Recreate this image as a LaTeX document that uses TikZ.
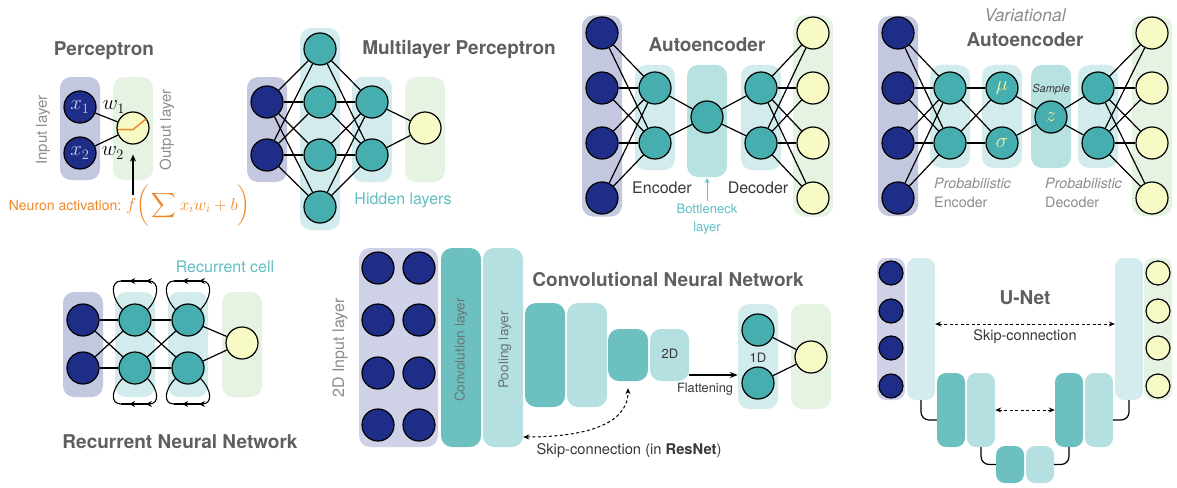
\documentclass[tikz,border=0pt]{standalone}
\usepackage{amsmath}
\usepackage{fontspec}
\setmainfont{TeX Gyre Heros}
\usetikzlibrary{arrows.meta,calc,decorations.markings}
\definecolor{navy}{RGB}{30,45,135}
\definecolor{tealN}{RGB}{70,174,174}
\definecolor{yelN}{RGB}{247,250,196}
\definecolor{inbox}{RGB}{196,199,224}
\definecolor{inboxB}{RGB}{207,209,230}
\definecolor{hidbox}{RGB}{210,235,236}
\definecolor{bnbox}{RGB}{184,225,226}
\definecolor{outbox}{RGB}{230,243,227}
\definecolor{convC}{RGB}{108,192,192}
\definecolor{poolC}{RGB}{180,224,225}
\definecolor{unetL}{RGB}{212,236,237}
\definecolor{titlegray}{RGB}{95,95,95}
\definecolor{labelgray}{RGB}{140,140,140}
\definecolor{darktext}{RGB}{55,55,55}
\definecolor{tealtext}{RGB}{95,190,195}
\definecolor{orangeC}{RGB}{240,135,40}
\definecolor{xlab}{RGB}{200,205,235}
\definecolor{greek}{RGB}{240,240,170}
\definecolor{convtext}{RGB}{105,118,118}
\begin{document}
\begin{tikzpicture}[x=1pt,y=-1pt,
  neuron/.style={circle,draw=black,line width=1.2pt,minimum size=32pt,inner sep=0pt},
  inN/.style={neuron,fill=navy},
  hidN/.style={neuron,fill=tealN},
  outN/.style={neuron,fill=yelN},
  lbox/.style={rounded corners=11pt,minimum width=40pt,inner sep=0pt,draw=none},
  ubox/.style={rounded corners=9pt,minimum width=28pt,inner sep=0pt,draw=none},
  conn/.style={line width=1.2pt},
  ttl/.style={font=\fontsize{19}{22}\selectfont\bfseries,text=titlegray},
  lbl/.style={font=\fontsize{15}{18}\selectfont,text=labelgray},
  rarr/.style={line width=1.1pt,postaction={decorate},
    decoration={markings,
      mark=at position 0.11 with {\arrow{Stealth[length=6pt,width=6pt]}},
      mark=at position 0.71 with {\arrow{Stealth[length=6pt,width=6pt]}}}},
  dsh/.style={line width=1pt,dash pattern=on 3pt off 2.5pt,
    {Stealth[length=6pt,width=5pt]}-{Stealth[length=6pt,width=5pt]}}
]
\useasboundingbox (0,0) rectangle (1177,487);

% ================= Perceptron =================
\node[lbox,fill=inbox,minimum height=103pt] (pin) at (80,128.5) {};
\node[lbox,fill=outbox,minimum height=103pt] (pout) at (133,128.5) {};
\node[inN,font=\fontsize{20}{22}\selectfont,text=xlab] (px1) at (80,107) {$x_1$};
\node[inN,font=\fontsize{20}{22}\selectfont,text=xlab] (px2) at (80,153) {$x_2$};
\node[outN] (py) at (133,128) {};
\draw[conn] (px1) -- (py);
\draw[conn] (px2) -- (py);
\draw[orangeC,line width=1.5pt] (118,129.5) -- (133,129.5) -- (146,119);
\node[font=\fontsize{20}{22}\selectfont] (w1) at (114,107) {$w_1$};
\node[font=\fontsize{20}{22}\selectfont] (w2) at (113,153) {$w_2$};
\node[lbl,rotate=90] (pinl) at (43,130) {Input layer};
\node[lbl,rotate=90] (poutl) at (167,130) {Output layer};
\node[ttl] (pttl) at (104,51) {Perceptron};
\node[anchor=base east,inner sep=0pt,text=orangeC,font=\fontsize{14}{16}\selectfont] (act) at (121.5,210) {Neuron activation:};
\node[anchor=base west,inner sep=0pt,text=orangeC,font=\fontsize{17}{20}\selectfont] (fx) at (126,210) {$f\bigg(\displaystyle\sum x_i w_i + b\bigg)$};
\coordinate (actA) at (133,195);
\draw[conn,-{Stealth[length=7pt,width=6pt]},shorten >=10pt] (actA) -- (py.south);

% ================= MLP =================
\node[lbox,fill=inbox,minimum height=105pt] (min) at (267,129.5) {};
\node[lbox,fill=hidbox,minimum height=202pt] (mh1) at (320,129) {};
\node[lbox,fill=hidbox,minimum height=105pt] (mh2) at (372,129.5) {};
\node[lbox,fill=outbox,minimum height=105pt] (mout) at (425,129.5) {};
\node[inN] (ma1) at (267,102) {};
\node[inN] (ma2) at (267,155) {};
\node[hidN] (mb1) at (320,49) {};
\node[hidN] (mb2) at (320,102) {};
\node[hidN] (mb3) at (320,155) {};
\node[hidN] (mb4) at (320,207) {};
\node[hidN] (mc1) at (372,102) {};
\node[hidN] (mc2) at (372,155) {};
\node[outN] (md) at (425,128) {};
\foreach \a in {ma1,ma2} \foreach \b in {mb1,mb2,mb3,mb4} \draw[conn] (\a) -- (\b);
\foreach \a in {mb1,mb2,mb3,mb4} \foreach \b in {mc1,mc2} \draw[conn] (\a) -- (\b);
\foreach \a in {mc1,mc2} \draw[conn] (\a) -- (md);
\node[ttl] (mttl) at (459,50) {Multilayer Perceptron};
\node[font=\fontsize{16}{19}\selectfont,text=tealtext] (mhl) at (403,200) {Hidden layers};

% ================= Autoencoder =================
\node[lbox,fill=inbox,minimum height=201pt] (ain) at (602,116) {};
\node[lbox,fill=hidbox,minimum height=105pt] (aenc) at (655,117.5) {};
\node[lbox,fill=bnbox,minimum height=112pt] (abn) at (707,121) {};
\node[lbox,fill=hidbox,minimum height=105pt] (adec) at (761,117.5) {};
\node[lbox,fill=outbox,minimum height=201pt] (aout) at (813,116) {};
\foreach \i/\y in {1/33,2/88,3/143,4/198} {
  \node[inN] (ai\i) at (602,\y) {};
  \node[outN] (ao\i) at (813,\y) {};
}
\node[hidN] (ae1) at (655,88) {};
\node[hidN] (ae2) at (655,143) {};
\node[hidN] (ab) at (707,117) {};
\node[hidN] (ad1) at (761,88) {};
\node[hidN] (ad2) at (761,143) {};
\foreach \a in {ai1,ai2,ai3,ai4} \foreach \b in {ae1,ae2} \draw[conn] (\a) -- (\b);
\foreach \a in {ae1,ae2} \draw[conn] (\a) -- (ab);
\foreach \b in {ad1,ad2} \draw[conn] (ab) -- (\b);
\foreach \a in {ad1,ad2} \foreach \b in {ao1,ao2,ao3,ao4} \draw[conn] (\a) -- (\b);
\node[ttl] (attl) at (707,45) {Autoencoder};
\node[font=\fontsize{16}{19}\selectfont,text=darktext] (aencl) at (662,188) {Encoder};
\node[font=\fontsize{16}{19}\selectfont,text=darktext] (adecl) at (758,188) {Decoder};
\node[font=\fontsize{13}{18}\selectfont,text=tealtext,align=center] (abnl) at (707,219) {Bottleneck\\layer};
\draw[tealtext,line width=1pt,-{Stealth[length=5pt,width=5pt]}] ([yshift=-1pt]abnl.north) -- ([yshift=-1pt]abn.south);

% ================= VAE =================
\node[lbox,fill=inbox,minimum height=200pt] (vin) at (898,116) {};
\node[lbox,fill=hidbox,minimum height=103pt] (venc) at (950,116.5) {};
\node[lbox,fill=hidbox,minimum height=103pt] (vms) at (1002,116.5) {};
\node[lbox,fill=bnbox,minimum height=103pt] (vz) at (1051,116.5) {};
\node[lbox,fill=hidbox,minimum height=103pt] (vdec) at (1098,116.5) {};
\node[lbox,fill=outbox,minimum height=200pt] (vout) at (1152,116) {};
\foreach \i/\y in {1/33,2/88,3/143,4/198} {
  \node[inN] (vi\i) at (898,\y) {};
  \node[outN] (vo\i) at (1152,\y) {};
}
\node[hidN] (ve1) at (950,88) {};
\node[hidN] (ve2) at (950,143) {};
\node[hidN,text=greek,font=\fontsize{22}{24}\selectfont] (vmu) at (1002,88) {$\mu$};
\node[hidN,text=greek,font=\fontsize{22}{24}\selectfont] (vsig) at (1002,143) {$\sigma$};
\node[hidN,text=greek,font=\fontsize{22}{24}\selectfont] (vzn) at (1051,117) {$z$};
\node[hidN] (vd1) at (1098,88) {};
\node[hidN] (vd2) at (1098,143) {};
\foreach \a in {vi1,vi2,vi3,vi4} \foreach \b in {ve1,ve2} \draw[conn] (\a) -- (\b);
\foreach \a in {ve1,ve2} \foreach \b in {vmu,vsig} \draw[conn] (\a) -- (\b);
\foreach \a in {vmu,vsig} \draw[conn] (\a) -- (vzn);
\foreach \b in {vd1,vd2} \draw[conn] (vzn) -- (\b);
\foreach \a in {vd1,vd2} \foreach \b in {vo1,vo2,vo3,vo4} \draw[conn] (\a) -- (\b);
\node[font=\fontsize{17.5}{20}\selectfont\itshape,text=labelgray] (vvar) at (1025,15) {Variational};
\node[ttl] (vttl) at (1025,40) {Autoencoder};
\node[font=\fontsize{11}{13}\selectfont\itshape,text=darktext] (vsam) at (1051,90) {Sample};
\node[anchor=west,inner sep=0pt,font=\fontsize{14.3}{17}\selectfont\itshape,text=labelgray] (vpe) at (934,183) {Probabilistic};
\node[anchor=west,inner sep=0pt,font=\fontsize{14.3}{17}\selectfont,text=labelgray] (vpe2) at (934,202) {Encoder};
\node[anchor=west,inner sep=0pt,font=\fontsize{14.3}{17}\selectfont\itshape,text=labelgray] (vpd) at (1045,183) {Probabilistic};
\node[anchor=west,inner sep=0pt,font=\fontsize{14.3}{17}\selectfont,text=labelgray] (vpd2) at (1045,202) {Decoder};

% ================= RNN =================
\node[lbox,fill=inbox,minimum height=105pt] (rin) at (83,344.5) {};
\node[lbox,fill=hidbox,minimum height=105pt] (rh1) at (135,344.5) {};
\node[lbox,fill=hidbox,minimum height=105pt] (rh2) at (188,344.5) {};
\node[lbox,fill=outbox,minimum height=105pt] (rout) at (242,344.5) {};
\node[inN] (ra1) at (83,320) {};
\node[inN] (ra2) at (83,368) {};
\node[hidN] (rb1) at (135,320) {};
\node[hidN] (rb2) at (135,368) {};
\node[hidN] (rc1) at (188,320) {};
\node[hidN] (rc2) at (188,368) {};
\node[outN] (rd) at (242,343) {};
\foreach \a in {ra1,ra2} \foreach \b in {rb1,rb2} \draw[conn] (\a) -- (\b);
\foreach \a in {rb1,rb2} \foreach \b in {rc1,rc2} \draw[conn] (\a) -- (\b);
\foreach \a in {rc1,rc2} \draw[conn] (\a) -- (rd);
\foreach \n/\s/\h in {rb1/-1/39,rc1/-1/39,rb2/1/36,rc2/1/36} {
  \draw[line width=1.1pt] ($(\n)+(12.3,10.3*\s)$) .. controls ($(\n)+(24,22*\s)$) and ($(\n)+(25,\h*\s)$) .. ($(\n)+(14,\h*\s)$)
     -- ($(\n)+(-14,\h*\s)$) .. controls ($(\n)+(-25,\h*\s)$) and ($(\n)+(-24,22*\s)$) .. ($(\n)+(-12.3,10.3*\s)$);
  \draw[rarr] ($(\n)+(14,\h*\s)$) -- ($(\n)+(-14,\h*\s)$);
}
\node[font=\fontsize{16}{19}\selectfont,text=tealtext] (rcell) at (225,267) {Recurrent cell};
\node[ttl] (rttl) at (180,442) {Recurrent Neural Network};

% ================= CNN =================
\node[lbox,fill=inboxB,minimum width=79pt,minimum height=199pt] (cin) at (398.5,347.5) {};
\node[lbox,fill=convC,minimum height=199pt] (cconv) at (461,347.5) {};
\node[lbox,fill=poolC,minimum height=199pt] (cpool) at (503,347.5) {};
\node[lbox,fill=convC,minimum height=104pt] (c3) at (545,355) {};
\node[lbox,fill=poolC,minimum height=104pt] (c4) at (587,355) {};
\node[lbox,fill=convC,minimum height=52pt] (c5) at (628,355) {};
\node[lbox,fill=poolC,minimum width=39pt,minimum height=52pt] (c6) at (669.5,355) {};
\node[lbox,fill=hidbox,minimum height=105pt] (c1d) at (758,356.5) {};
\node[lbox,fill=outbox,minimum height=105pt] (cout) at (811,356.5) {};
\foreach \i/\y in {1/268,2/320,3/373,4/425} {
  \node[inN] (cu\i) at (378,\y) {};
  \node[inN] (cv\i) at (419,\y) {};
}
\node[hidN] (cf1) at (758,330) {};
\node[hidN] (cf2) at (758,383) {};
\node[outN] (co) at (811,357) {};
\draw[conn] (cf1) -- (co);
\draw[conn] (cf2) -- (co);
\node[lbl,font=\fontsize{16}{19}\selectfont,rotate=90] (cinl) at (340,348) {2D Input layer};
\node[font=\fontsize{13.6}{16}\selectfont,text=convtext,rotate=90] (cconvl) at (461,350) {Convolution layer};
\node[font=\fontsize{13.6}{16}\selectfont,text=convtext,rotate=90] (cpooll) at (505,350) {Pooling layer};
\node[font=\fontsize{13}{16}\selectfont,text=darktext] (c2dl) at (670,354) {2D};
\node[font=\fontsize{13}{16}\selectfont,text=darktext] (c1dl) at (758,358) {1D};
\draw[conn,-{Stealth[length=8pt,width=6pt]}] ([yshift=-20pt]c6.east) -- ([yshift=-20pt]c6.east -| c1d.west);
\node[font=\fontsize{12.8}{15}\selectfont,text=darktext] (cflat) at (705,389) {Flattening};
\draw[dsh] ([yshift=-89.5pt]cpool.east) .. controls +(60,0) and +(0,37) .. ([yshift=-7pt]c5.south);
\node[font=\fontsize{14.7}{17}\selectfont,text=darktext] (cskip) at (629,451) {Skip-connection (in \textbf{ResNet})};
\node[ttl] (cttl) at (668,280) {Convolutional Neural Network};

% ================= U-Net =================
\node[ubox,fill=inboxB,minimum height=142pt] (uin) at (891,329) {};
\node[ubox,fill=unetL,minimum height=142pt] (u1) at (921,329) {};
\node[ubox,fill=convC,minimum height=74pt] (u2) at (951,410) {};
\node[ubox,fill=poolC,minimum height=74pt] (u3) at (981,410) {};
\node[ubox,fill=convC,minimum height=37pt] (u4) at (1010,464.5) {};
\node[ubox,fill=poolC,minimum height=37pt] (u5) at (1040,464.5) {};
\node[ubox,fill=convC,minimum height=74pt] (u6) at (1069,410) {};
\node[ubox,fill=poolC,minimum height=74pt] (u7) at (1099,410) {};
\node[ubox,fill=unetL,minimum height=142pt] (u8) at (1129,329) {};
\node[ubox,fill=outbox,minimum height=142pt] (uout) at (1158,329) {};
\foreach \i/\y in {1/273,2/311,3/348,4/386} {
  \node[inN,minimum size=24pt] (ua\i) at (891,\y) {};
  \node[outN,minimum size=24pt] (ub\i) at (1158,\y) {};
}
\node[ttl] (uttl) at (1025,298) {U-Net};
\draw[dsh] ([yshift=5pt]u1.east) -- ([yshift=5pt]u8.west);
\node[font=\fontsize{14.5}{17}\selectfont,text=darktext] (uskip) at (1025,337) {Skip-connection};
\draw[dsh] (u3.east) -- (u6.west);
\draw[conn,rounded corners=8pt] (u1.south) |- ([yshift=-10pt]u2.west);
\draw[conn,rounded corners=8pt] (u3.south) |- (u4.west);
\draw[conn,rounded corners=8pt] (u5.east) -| (u6.south);
\draw[conn,rounded corners=8pt] ([yshift=-10pt]u7.east) -| (u8.south);
\end{tikzpicture}
\end{document}
